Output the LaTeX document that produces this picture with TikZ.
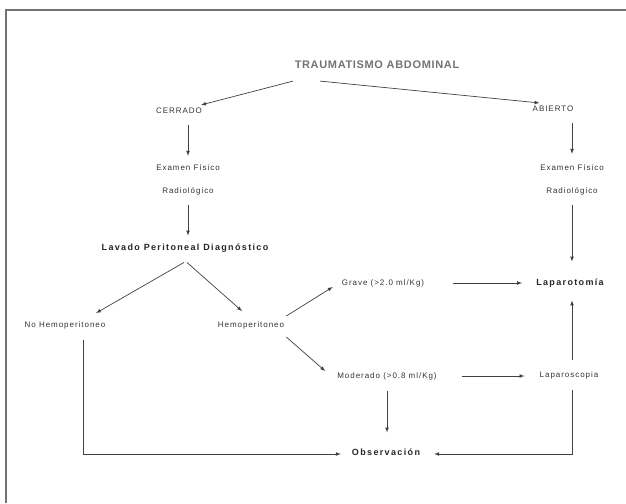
\documentclass[tikz,border=0pt]{standalone}
\usepackage{fontspec}
\setmainfont{Liberation Sans}
\newfontfamily\flowfont[LetterSpace=12]{Liberation Sans}
\newfontfamily\claveFont[LetterSpace=15]{Liberation Sans}
\newfontfamily\titlefont[LetterSpace=6]{Liberation Sans}

\begin{document}
\begin{tikzpicture}
[
	x=1pt,y=-1pt,
	paso/.style={font=\flowfont\fontsize{8}{9}\selectfont,text=black!80,inner sep=1pt},
	clave/.style={font=\claveFont\bfseries\fontsize{9}{10}\selectfont,text=black!85,inner sep=1pt},
	titulo/.style={font=\titlefont\bfseries\fontsize{11}{13}\selectfont,text=black!55,inner sep=1pt},
	flecha/.style={->,>=latex,draw=black!75,line width=0.7pt}
]

	\useasboundingbox (0,0) rectangle (626,503);

	% frame
	\draw[black!55,line width=1.3pt] (6,503) -- (6,10) -- (626,10);

	% nodes
	\node[titulo] at (377,65) (trauma) {TRAUMATISMO ABDOMINAL};
	\node[paso] at (179,111) (cerrado) {CERRADO};
	\node[paso] at (553,109) (abierto) {ABIERTO};

	\node[paso] at (188,168) (examL) {Examen Físico};
	\node[paso] at (188,191) (radioL) {Radiológico};
	\node[paso] at (572,168) (examR) {Examen Físico};
	\node[paso] at (572,191) (radioR) {Radiológico};

	\node[clave] at (185,248) (lavado) {Lavado Peritoneal Diagnóstico};
	\node[paso] at (65,325) (nohemo) {No Hemoperitoneo};
	\node[paso] at (251,325) (hemo) {Hemoperitoneo};
	\node[paso] at (383,283) (grave) {Grave (>2.0 ml/Kg)};
	\node[paso] at (387,376) (moderado) {Moderado (>0.8 ml/Kg)};
	\node[clave] at (570,283) (laparotomia) {Laparotomía};
	\node[paso] at (569,375) (laparoscopia) {Laparoscopia};
	\node[clave] at (386,452) (obs) {Observación};

	% arrows
	\draw[flecha] ([shift={(-84,11)}]trauma.south) -- ([shift={(-2,-2)}]cerrado.north east);
	\draw[flecha] ([shift={(-57,11)}]trauma.south) -- ([shift={(8,-2)}]abierto.north west);

	\draw[flecha,shorten <=10pt,shorten >=8pt] (examL |- cerrado.south) -- (examL.north);
	\draw[flecha,shorten <=9pt,shorten >=7pt] (radioL.south) -- (radioL.south |- lavado.north);
	\draw[flecha,shorten <=10pt,shorten >=10pt] (examR |- abierto.south) -- (examR.north);
	\draw[flecha,shorten <=9pt,shorten >=16pt] (radioR.south) -- (radioR.south |- laparotomia.north);

	\draw[flecha] ([shift={(-1,9)}]lavado.south) -- ([shift={(31,-7)}]nohemo.north);
	\draw[flecha] ([shift={(2,9)}]lavado.south) -- ([shift={(-9,-9)}]hemo.north);
	\draw[flecha] ([shift={(1,-9)}]hemo.east) -- ([shift={(-8,4)}]grave.west);
	\draw[flecha] ([shift={(1,12)}]hemo.east) -- ([shift={(-11,-5)}]moderado.west);

	\draw[flecha,shorten <=28pt,shorten >=13pt] (grave.east) -- (grave.east -| laparotomia.west);
	\draw[flecha,shorten <=24pt,shorten >=14pt] (moderado.east) -- (moderado.east -| laparoscopia.west);
	\draw[flecha,shorten <=10pt,shorten >=15pt] (moderado.south) -- (moderado.south |- obs.north);
	\draw[flecha,shorten <=10pt,shorten >=12pt] (radioR |- laparoscopia.north) -- (radioR |- laparotomia.south);

	\draw[flecha] ([shift={(18,10)}]nohemo.south) |- ([shift={(-10,2)}]obs.west);
	\draw[flecha] ([shift={(0,10)}]radioR |- laparoscopia.south) |- ([shift={(13,2)}]obs.east);

\end{tikzpicture}
\end{document}
